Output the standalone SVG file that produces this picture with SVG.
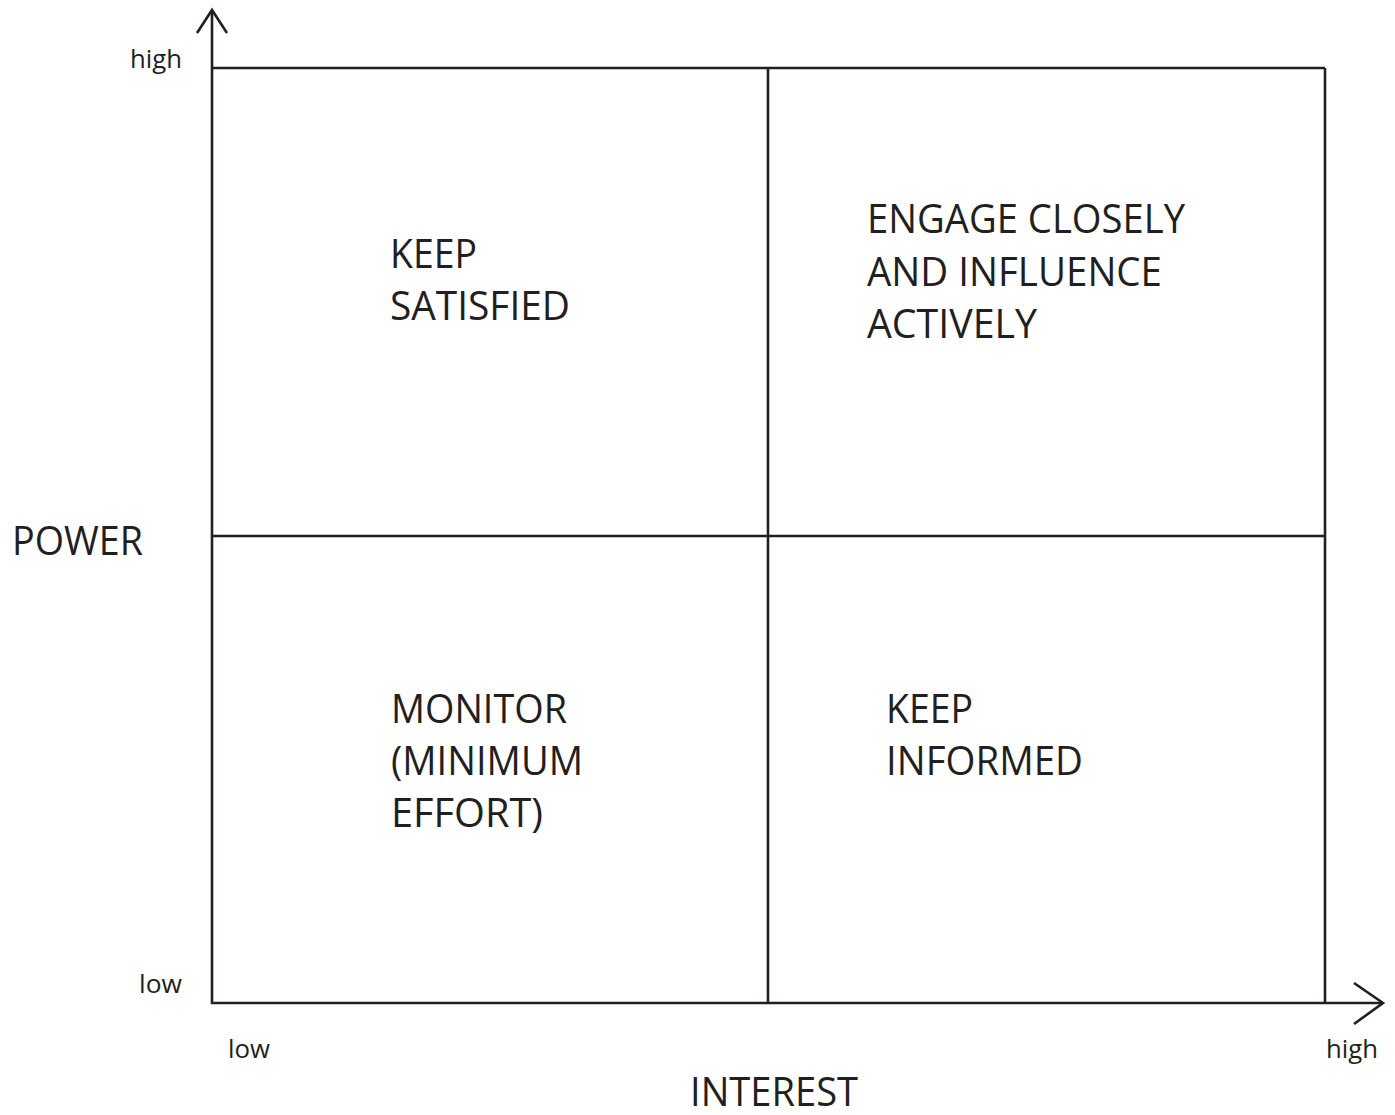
<svg xmlns="http://www.w3.org/2000/svg" width="1395" height="1115" viewBox="0 0 1395 1115">
<style>
.ln{stroke:#231f20;stroke-width:2.6;fill:none;stroke-linecap:butt}
.big{font-family:"Open Sans","Liberation Sans",sans-serif;font-size:41px;fill:#231f20}
.sm{font-family:"Open Sans","Liberation Sans",sans-serif;font-size:26px;fill:#231f20}
</style>
<rect width="1395" height="1115" fill="#ffffff"/>
<g id="connectors">
<line class="ln" x1="212" y1="10" x2="212" y2="1004"/>
<polyline class="ln" points="197,33 212,10 227,33"/>
<line class="ln" x1="211" y1="1003" x2="1383" y2="1003"/>
<polyline class="ln" points="1354,983 1383,1003 1354,1024"/>
<line class="ln" x1="212" y1="68" x2="1325" y2="68"/>
<line class="ln" x1="1325" y1="68" x2="1325" y2="1003"/>
<line class="ln" x1="768" y1="68" x2="768" y2="1003"/>
<line class="ln" x1="212" y1="536" x2="1325" y2="536"/>
</g>
<g id="keep-satisfied">
<text class="big" x="390" y="268" textLength="87" lengthAdjust="spacingAndGlyphs">KEEP</text>
<text class="big" x="390" y="320" textLength="180" lengthAdjust="spacingAndGlyphs">SATISFIED</text>
</g>
<g id="engage-closely">
<text class="big" x="867" y="233" textLength="318" lengthAdjust="spacingAndGlyphs">ENGAGE CLOSELY</text>
<text class="big" x="867" y="286" textLength="295" lengthAdjust="spacingAndGlyphs">AND INFLUENCE</text>
<text class="big" x="867" y="338" textLength="170" lengthAdjust="spacingAndGlyphs">ACTIVELY</text>
</g>
<g id="monitor">
<text class="big" x="391" y="723" textLength="176" lengthAdjust="spacingAndGlyphs">MONITOR</text>
<text class="big" x="391" y="775" textLength="192" lengthAdjust="spacingAndGlyphs">(MINIMUM</text>
<text class="big" x="391" y="827" textLength="152" lengthAdjust="spacingAndGlyphs">EFFORT)</text>
</g>
<g id="keep-informed">
<text class="big" x="886" y="723" textLength="87" lengthAdjust="spacingAndGlyphs">KEEP</text>
<text class="big" x="886" y="775" textLength="197" lengthAdjust="spacingAndGlyphs">INFORMED</text>
</g>
<g id="axis-labels">
<text class="big" x="12" y="555" textLength="131" lengthAdjust="spacingAndGlyphs">POWER</text>
<text class="big" x="690" y="1106" textLength="168" lengthAdjust="spacingAndGlyphs">INTEREST</text>
<text class="sm" x="130" y="68" textLength="52" lengthAdjust="spacingAndGlyphs">high</text>
<text class="sm" x="139" y="993" textLength="43" lengthAdjust="spacingAndGlyphs">low</text>
<text class="sm" x="228" y="1058" textLength="42" lengthAdjust="spacingAndGlyphs">low</text>
<text class="sm" x="1326" y="1058" textLength="52" lengthAdjust="spacingAndGlyphs">high</text>
</g>
</svg>
